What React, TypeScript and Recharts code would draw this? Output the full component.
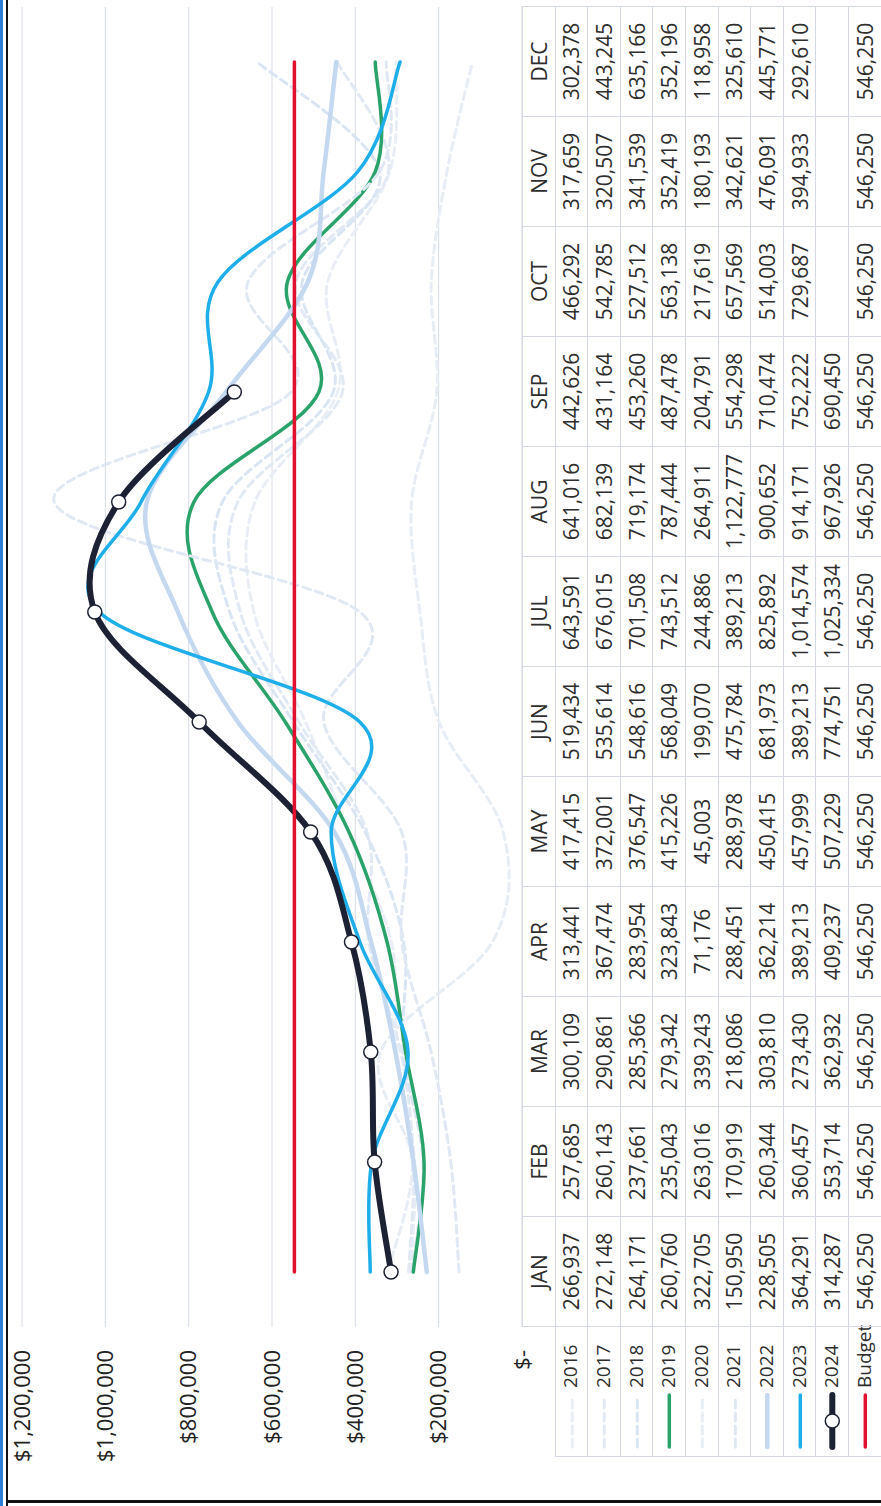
import { LineChart, Line, XAxis, YAxis, CartesianGrid } from "recharts";

const MONTHS = ["JAN", "FEB", "MAR", "APR", "MAY", "JUN", "JUL", "AUG", "SEP", "OCT", "NOV", "DEC"];

const Y2016 = [266937, 257685, 300109, 313441, 417415, 519434, 643591, 641016, 442626, 466292, 317659, 302378];
const Y2017 = [272148, 260143, 290861, 367474, 372001, 535614, 676015, 682139, 431164, 542785, 320507, 443245];
const Y2018 = [264171, 237661, 285366, 283954, 376547, 548616, 701508, 719174, 453260, 527512, 341539, 635166];
const Y2019 = [260760, 235043, 279342, 323843, 415226, 568049, 743512, 787444, 487478, 563138, 352419, 352196];
const Y2020 = [322705, 263016, 339243, 71176, 45003, 199070, 244886, 264911, 204791, 217619, 180193, 118958];
const Y2021 = [150950, 170919, 218086, 288451, 288978, 475784, 389213, 1122777, 554298, 657569, 342621, 325610];
const Y2022 = [228505, 260344, 303810, 362214, 450415, 681973, 825892, 900652, 710474, 514003, 476091, 445771];
const Y2023 = [364291, 360457, 273430, 389213, 457999, 389213, 1014574, 914171, 752222, 729687, 394933, 292610];
const Y2024 = [314287, 353714, 362932, 409237, 507229, 774751, 1025334, 967926, 690450, null, null, null];
const BUDGET = [546250, 546250, 546250, 546250, 546250, 546250, 546250, 546250, 546250, 546250, 546250, 546250];

const Y_TICKS = [0, 200000, 400000, 600000, 800000, 1000000, 1200000];

const SERIES = [
  { key: "2016", values: Y2016, color: "#e9eef6", width: 3, dash: "8 5" },
  { key: "2017", values: Y2017, color: "#e1e9f4", width: 3, dash: "8 5" },
  { key: "2018", values: Y2018, color: "#dae5f3", width: 3, dash: "8 5" },
  { key: "2019", values: Y2019, color: "#2aa36a", width: 3.5, dash: undefined },
  { key: "2020", values: Y2020, color: "#e7edf5", width: 3, dash: "8 5" },
  { key: "2021", values: Y2021, color: "#e0e8f3", width: 3, dash: "8 5" },
  { key: "2022", values: Y2022, color: "#c4d8ef", width: 4.5, dash: undefined },
  { key: "2023", values: Y2023, color: "#1eaeea", width: 3.5, dash: undefined },
  { key: "2024", values: Y2024, color: "#1c2133", width: 6, dash: undefined },
  { key: "Budget", values: BUDGET, color: "#e0102e", width: 3.5, dash: undefined },
];

const data = MONTHS.map((m, i) => {
  const row: Record<string, string | number | null> = { month: m };
  SERIES.forEach((s) => (row[s.key] = s.values[i]));
  return row;
});

// excel-ish smoothing: cardinal spline, control points at 1/6 of the neighbour chord
function excelSmooth(context: any) {
  let pts: number[][] = [];
  return {
    areaStart() {},
    areaEnd() {},
    lineStart() {
      pts = [];
    },
    point(x: number, y: number) {
      pts.push([+x, +y]);
    },
    lineEnd() {
      if (!pts.length) return;
      context.moveTo(pts[0][0], pts[0][1]);
      for (let i = 0; i < pts.length - 1; i++) {
        const p0 = pts[i - 1] || pts[i];
        const p1 = pts[i];
        const p2 = pts[i + 1];
        const p3 = pts[i + 2] || p2;
        context.bezierCurveTo(
          p1[0] + (p2[0] - p0[0]) / 6,
          p1[1] + (p2[1] - p0[1]) / 6,
          p2[0] - (p3[0] - p1[0]) / 6,
          p2[1] - (p3[1] - p1[1]) / 6,
          p2[0],
          p2[1]
        );
      }
    },
  };
}

const fmtMoney = (v: number) => (v === 0 ? "$-" : "$" + v.toLocaleString("en-US"));
const fmtCell = (v: number | null) => (v == null ? "" : v.toLocaleString("en-US"));

const FONT = '"Open Sans", sans-serif';
const BORDER = "#d3d8e4";
const TABLE_LEFT = 49;
const LEGEND_W = 130;
const COL_W = 110;
const ROW_H = 32.6;
const TABLE_TOP = 522;

const cellBase = {
  position: "absolute" as const,
  height: ROW_H + 1,
  border: `1px solid ${BORDER}`,
  boxSizing: "border-box" as const,
  display: "flex",
  alignItems: "center",
  justifyContent: "center",
  lineHeight: 1.15,
};

function LegendKey({ s }: { s: (typeof SERIES)[number] }) {
  return (
    <svg width={60} height={ROW_H} style={{ position: "absolute", left: 5, top: 0 }}>
      <line
        x1={4}
        x2={56}
        y1={ROW_H / 2}
        y2={ROW_H / 2}
        stroke={s.color}
        strokeWidth={s.width}
        strokeDasharray={s.dash}
        strokeLinecap="round"
      />
      {s.key === "2024" && <circle cx={30} cy={ROW_H / 2} r={7} fill="#fff" stroke={s.color} strokeWidth={1.5} />}
    </svg>
  );
}

function DataTable() {
  const cells: JSX.Element[] = [];
  MONTHS.forEach((m, c) => {
    cells.push(
      <div key={"h" + m} style={{ ...cellBase, left: TABLE_LEFT + LEGEND_W + c * COL_W, top: TABLE_TOP, width: COL_W + 1 }}>
        {m}
      </div>
    );
  });
  SERIES.forEach((s, r) => {
    const top = TABLE_TOP + (r + 1) * ROW_H;
    cells.push(
      <div
        key={"l" + s.key}
        style={{ ...cellBase, left: TABLE_LEFT, top, width: LEGEND_W + 1, justifyContent: "flex-start", fontSize: 19 }}
      >
        <LegendKey s={s} />
        <span style={{ marginLeft: 68 }}>{s.key}</span>
      </div>
    );
    s.values.forEach((v, c) => {
      cells.push(
        <div key={s.key + c} style={{ ...cellBase, left: TABLE_LEFT + LEGEND_W + c * COL_W, top, width: COL_W + 1 }}>
          {fmtCell(v)}
        </div>
      );
    });
  });
  return <>{cells}</>;
}

export default function App() {
  return (
    <div style={{ position: "absolute", left: 0, top: 0, width: 881, height: 1506, overflow: "hidden", background: "#fff" }}>
      <div
        style={{
          position: "absolute",
          left: 0,
          top: 0,
          width: 1506,
          height: 881,
          transformOrigin: "0 0",
          transform: "translate(0px, 1506px) rotate(-90deg)",
          fontFamily: FONT,
          fontSize: 21,
          color: "#2e2e2e",
          background: "#fff",
        }}
      >
        <div style={{ position: "absolute", left: 0, top: 0 }}>
          <LineChart width={1506} height={881} data={data} margin={{ top: 22, right: 7, bottom: 359, left: 0 }}>
            <CartesianGrid vertical={false} stroke="#d6dbe6" strokeWidth={1} />
            <XAxis dataKey="month" hide padding={{ left: 55, right: 55 }} />
            <YAxis
              width={179}
              domain={[0, 1200000]}
              ticks={Y_TICKS}
              interval={0}
              axisLine={false}
              tickLine={false}
              tickSize={6}
              tickMargin={17}
              tickFormatter={fmtMoney}
              tick={{ fill: "#222", fontSize: 22, fontFamily: FONT }}
            />
            {SERIES.map((s) => (
              <Line
                key={s.key}
                dataKey={s.key}
                type={excelSmooth as any}
                stroke={s.color}
                strokeWidth={s.width}
                strokeDasharray={s.dash}
                strokeLinecap="round"
                dot={s.key === "2024" ? { r: 7, fill: "#fff", stroke: s.color, strokeWidth: 1.5 } : false}
                activeDot={false}
                isAnimationActive={false}
              />
            ))}
          </LineChart>
        </div>
        <DataTable />
        {/* frame */}
        <div style={{ position: "absolute", left: 0, top: 0, width: 1506, height: 3, background: "#2f7fd8" }} />
        <div style={{ position: "absolute", left: 0, top: 6, width: 1506, height: 2, background: "#111" }} />
        <div style={{ position: "absolute", left: 3, top: 6, width: 3, height: 875, background: "#111" }} />
      </div>
    </div>
  );
}
